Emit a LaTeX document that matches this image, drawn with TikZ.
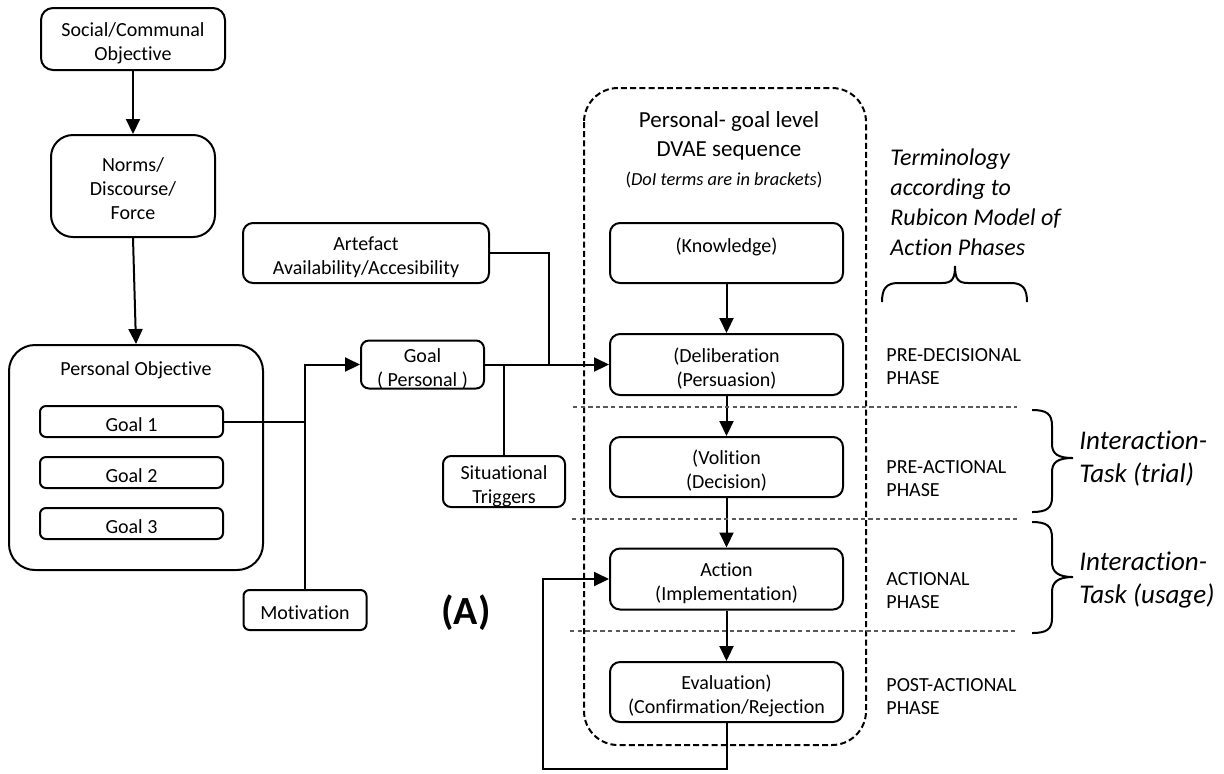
\documentclass[tikz,border=0pt]{standalone}
\usepackage{fontspec}
\setmainfont{Carlito}[Ligatures=NoCommon]
\usetikzlibrary{arrows.meta}

% box labels sit a little below the optical centre of their frames
\newcommand{\bt}[1]{\raisebox{-2.5pt}[\height][\depth]{\begin{tabular}{@{}c@{}}#1\end{tabular}}}

\tikzset{
  base/.style={font=\fontsize{10}{12}\selectfont, text=black},
  box/.style={base, draw, line width=1pt, align=center, inner sep=0pt, rounded corners=#1},
  box/.default=5pt,
  conn/.style={line width=1pt},
  arr/.style={conn, -{Triangle[length=7.5pt,width=7pt]}},
  dvae/.style={line width=1pt, dash pattern=on 3pt off 1.6pt, rounded corners=17pt},
  phaseline/.style={line width=0.55pt, draw=black!65, dash pattern=on 2.2pt off 1.6pt},
  phase/.style={base, align=left, anchor=west, inner sep=0pt, font=\fontsize{10}{11.5}\selectfont},
  bracket/.style={line width=1pt},
  note/.style={align=left, anchor=west, inner sep=0pt},
}

\begin{document}
\begin{tikzpicture}[x=0.5pt, y=-0.5pt]
\useasboundingbox (0,0) rectangle (1224,773);

% left column: objectives
\node[box=6pt, minimum width=92pt, minimum height=31pt] (soc) at (133,39) {\bt{Social/Communal\\Objective}};
\node[box=11pt, minimum width=82pt, minimum height=51pt] (norms) at (133,186) {\bt{Norms/\\Discourse/\\Force}};
\node[box=13pt, minimum width=127pt, minimum height=112.5pt] (pobj) at (136,457.5) {};
\node[base, inner sep=0pt] (pobjtitle) at (136,370) {Personal Objective};
\node[box=3pt, minimum width=91.5pt, minimum height=15.5pt] (g1) at (131.5,421.5) {\bt{Goal 1}};
\node[box=3pt, minimum width=91.5pt, minimum height=15.5pt] (g2) at (131.5,472.5) {\bt{Goal 2}};
\node[box=3pt, minimum width=91.5pt, minimum height=15.5pt] (g3) at (131.5,523.5) {\bt{Goal 3}};

\draw[arr] (soc.south) -- (norms.north);
\draw[arr] (norms.south) -- (pobj.north);

% influences on the personal goal
\node[box=3pt, minimum width=61.5pt, minimum height=20pt] (mot) at (305,610) {\bt{Motivation}};
\node[box=4pt, minimum width=61.5pt, minimum height=23pt] (goal) at (422.5,364.5) {\bt{Goal\\( Personal )}};
\node[box=5pt, minimum width=123pt, minimum height=30pt] (art) at (366,253) {\bt{Artefact\\Availability/Accesibility}};
\node[box=4pt, minimum width=61pt, minimum height=25.5pt] (sit) at (504,481.5) {\bt{Situational\\Triggers}};

\coordinate (jm) at (305,421.5);
\coordinate (ja) at (549,364.5);
\draw[conn] (g1.east) -- (jm);
\draw[conn] (mot.north) -- (jm);
\draw[arr] (jm) |- (goal.west);

% DVAE sequence
\draw[dvae] (584,88) rectangle (866,745);
\node[base, inner sep=0pt, font=\fontsize{11.5}{14}\selectfont] (t1) at (729,121) {Personal- goal level};
\node[base, inner sep=0pt, font=\fontsize{11.5}{14}\selectfont] (t2) at (729,151) {DVAE sequence};
\node[base, inner sep=0pt, font=\fontsize{9.2}{11}\selectfont] (t3) at (724,180) {(\textit{DoI terms are in brackets})};

\node[box=5pt, minimum width=116.5pt, minimum height=30pt] (know) at (726.5,253) {\bt{(Knowledge)\\[-1.5pt]\strut}};
\node[box=5pt, minimum width=116.5pt, minimum height=30.5pt] (delib) at (726.5,364.5) {\bt{(Deliberation\\(Persuasion)}};
\node[box=5pt, minimum width=116.5pt, minimum height=30pt] (vol) at (726.5,467) {\bt{(Volition\\(Decision)}};
\node[box=5pt, minimum width=116.5pt, minimum height=30.5pt] (act) at (726.5,579) {\bt{Action\\(Implementation)}};
\node[box=5pt, minimum width=116.5pt, minimum height=30pt] (eval) at (726.5,692) {\bt{Evaluation)\\(Confirmation/Rejection}};

\draw[conn] (art.east) -| (ja);
\draw[conn] (sit.north) -- (sit.north |- goal.east);
\draw[arr] (goal.east) -- (delib.west);

\draw[arr] (know.south) -- (delib.north);
\draw[arr] (delib.south) -- (vol.north);
\draw[arr] (vol.south) -- (act.north);
\draw[arr] (act.south) -- (eval.north);

\coordinate (fb) at (543,769);
\draw[arr] (eval.south) |- (fb) |- (act.west);

% phase boundaries
\draw[phaseline] (573,407) -- (1017,407);
\draw[phaseline] (572,519) -- (1017,519);
\draw[phaseline] (570,631) -- (1017,631);

\node[base, inner sep=0pt, font=\bfseries\fontsize{20}{24}\selectfont] (lblA) at (466,613) {(A)};

% Rubicon model terminology
\node[base, note, font=\itshape\fontsize{12}{15}\selectfont] (term) at (890,202)
  {Terminology\\according to\\Rubicon Model of\\Action Phases};
\draw[bracket] (882,302) .. controls (882,289) and (886,283) .. (898,283) -- (942,283)
  .. controls (952,283) and (955,279) .. (955,266)
  .. controls (955,279) and (958,283) .. (968,283) -- (1011,283)
  .. controls (1023,283) and (1027,289) .. (1027,302);

\node[phase] (ph1) at (886,367) {PRE-DECISIONAL\\PHASE};
\node[phase] (ph2) at (886,479) {PRE-ACTIONAL\\PHASE};
\node[phase] (ph3) at (886,591) {ACTIONAL\\PHASE};
\node[phase] (ph4) at (886,697) {POST-ACTIONAL\\PHASE};

% interaction-task braces
\draw[bracket] (1032,410) .. controls (1047,410) and (1052,414) .. (1052,426) -- (1052,444)
  .. controls (1052,454) and (1058,458) .. (1073,458)
  .. controls (1058,458) and (1052,462) .. (1052,472) -- (1052,497)
  .. controls (1052,508) and (1047,512) .. (1032,512);
\draw[bracket] (1032,522) .. controls (1047,522) and (1052,526) .. (1052,538) -- (1052,562)
  .. controls (1052,572) and (1058,577) .. (1073,577)
  .. controls (1058,577) and (1052,582) .. (1052,592) -- (1052,618)
  .. controls (1052,629) and (1047,633) .. (1032,633);

\node[base, note, font=\itshape\fontsize{13.5}{16.5}\selectfont] (it1) at (1079,459) {Interaction-\\Task (trial)};
\node[base, note, font=\itshape\fontsize{13.5}{16.5}\selectfont] (it2) at (1079,580.5) {Interaction-\\Task (usage)};
\end{tikzpicture}
\end{document}
